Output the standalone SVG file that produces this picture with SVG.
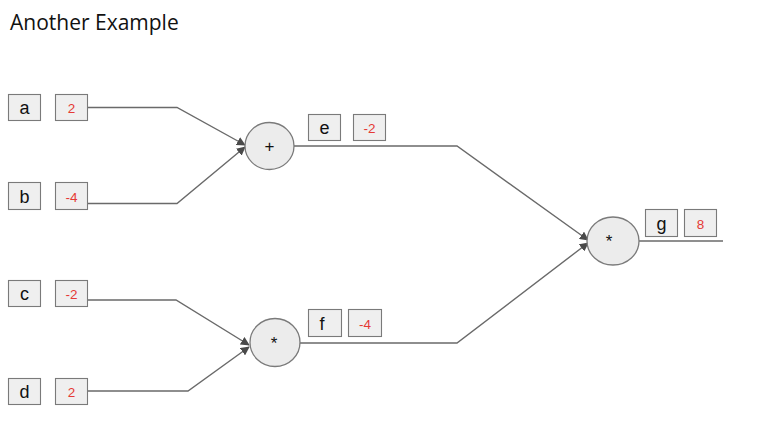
<svg xmlns="http://www.w3.org/2000/svg" width="758" height="439" viewBox="0 0 758 439">
  <style>
    .box { fill: #efefef; stroke: #7a7a7a; stroke-width: 1.1; }
    .op { fill: #ececec; stroke: #7a7a7a; stroke-width: 1.3; }
    .name { font-family: "Liberation Sans", Arial, sans-serif; font-size: 18px; fill: #111; text-anchor: middle; }
    .val { font-family: "Liberation Sans", Arial, sans-serif; font-size: 13.5px; fill: #e53935; text-anchor: middle; }
    .sym { font-family: "Liberation Sans", Arial, sans-serif; font-size: 17px; fill: #111; text-anchor: middle; }
    .wire { fill: none; stroke: #6a6a6a; stroke-width: 1.4; }
    .title { font-family: "Open Sans", "Noto Sans", sans-serif; font-size: 21px; fill: #111; }
  </style>
  <defs>
    <marker id="arrow" viewBox="0 0 10 10" refX="9" refY="5" markerWidth="9" markerHeight="9" orient="auto" markerUnits="userSpaceOnUse">
      <path d="M0,0 L10,5 L0,10 z" fill="#4a4a4a"/>
    </marker>
  </defs>

  <rect width="758" height="439" fill="#ffffff"/>
  <text class="title" x="10" y="30">Another Example</text>

  <!-- connectors -->
  <g id="connectors">
    <polyline class="wire" points="88,107.5 177,107.5 245,145" marker-end="url(#arrow)"/>
    <polyline class="wire" points="88,203.5 177,203.5 245,147" marker-end="url(#arrow)"/>
    <polyline class="wire" points="88,300 176,300 249,345" marker-end="url(#arrow)"/>
    <polyline class="wire" points="88,391 188,391 249,347" marker-end="url(#arrow)"/>
    <polyline class="wire" points="294,146 457,146 588,240" marker-end="url(#arrow)"/>
    <polyline class="wire" points="297,343 457,343 588,243" marker-end="url(#arrow)"/>
    <line class="wire" x1="639" y1="241" x2="723" y2="241"/>
  </g>

  <!-- inputs -->
  <g id="node-a">
    <rect class="box" x="8.5" y="94.5" width="32" height="26"/>
    <text class="name" x="24.5" y="113.5">a</text>
    <rect class="box" x="55.5" y="94.5" width="32" height="26"/>
    <text class="val" x="71.5" y="112.5">2</text>
  </g>
  <g id="node-b">
    <rect class="box" x="8.5" y="182.5" width="32" height="27"/>
    <text class="name" x="24.5" y="202.5">b</text>
    <rect class="box" x="55.5" y="182.5" width="32" height="27"/>
    <text class="val" x="71.5" y="201.5">-4</text>
  </g>
  <g id="node-c">
    <rect class="box" x="8.5" y="280.5" width="32" height="26"/>
    <text class="name" x="24.5" y="299.5">c</text>
    <rect class="box" x="55.5" y="280.5" width="32" height="26"/>
    <text class="val" x="71.5" y="298.5">-2</text>
  </g>
  <g id="node-d">
    <rect class="box" x="8.5" y="378.5" width="32" height="26"/>
    <text class="name" x="24.5" y="397.5">d</text>
    <rect class="box" x="55.5" y="378.5" width="32" height="26"/>
    <text class="val" x="71.5" y="396.5">2</text>
  </g>

  <!-- e = a + b -->
  <g id="node-e">
    <ellipse class="op" cx="269.5" cy="146" rx="24.5" ry="23.5"/>
    <text class="sym" x="269.5" y="152">+</text>
    <rect class="box" x="308.5" y="114.5" width="32" height="26"/>
    <text class="name" x="324.5" y="133.5">e</text>
    <rect class="box" x="353.5" y="114.5" width="32" height="26"/>
    <text class="val" x="369.5" y="132.5">-2</text>
  </g>

  <!-- f = c * d -->
  <g id="node-f">
    <ellipse class="op" cx="275" cy="342.5" rx="25" ry="24"/>
    <text class="sym" x="274" y="349">*</text>
    <rect class="box" x="308.5" y="309.5" width="33" height="27"/>
    <text class="name" x="322" y="329.5">f</text>
    <rect class="box" x="348.5" y="309.5" width="33" height="27"/>
    <text class="val" x="365" y="328.5">-4</text>
  </g>

  <!-- g = e * f -->
  <g id="node-g">
    <ellipse class="op" cx="613" cy="241" rx="26" ry="24"/>
    <text class="sym" x="609" y="247">*</text>
    <rect class="box" x="645.5" y="209.5" width="32" height="27"/>
    <text class="name" x="661.5" y="229.5">g</text>
    <rect class="box" x="684.5" y="209.5" width="32" height="27"/>
    <text class="val" x="700.5" y="228.5">8</text>
  </g>
</svg>
